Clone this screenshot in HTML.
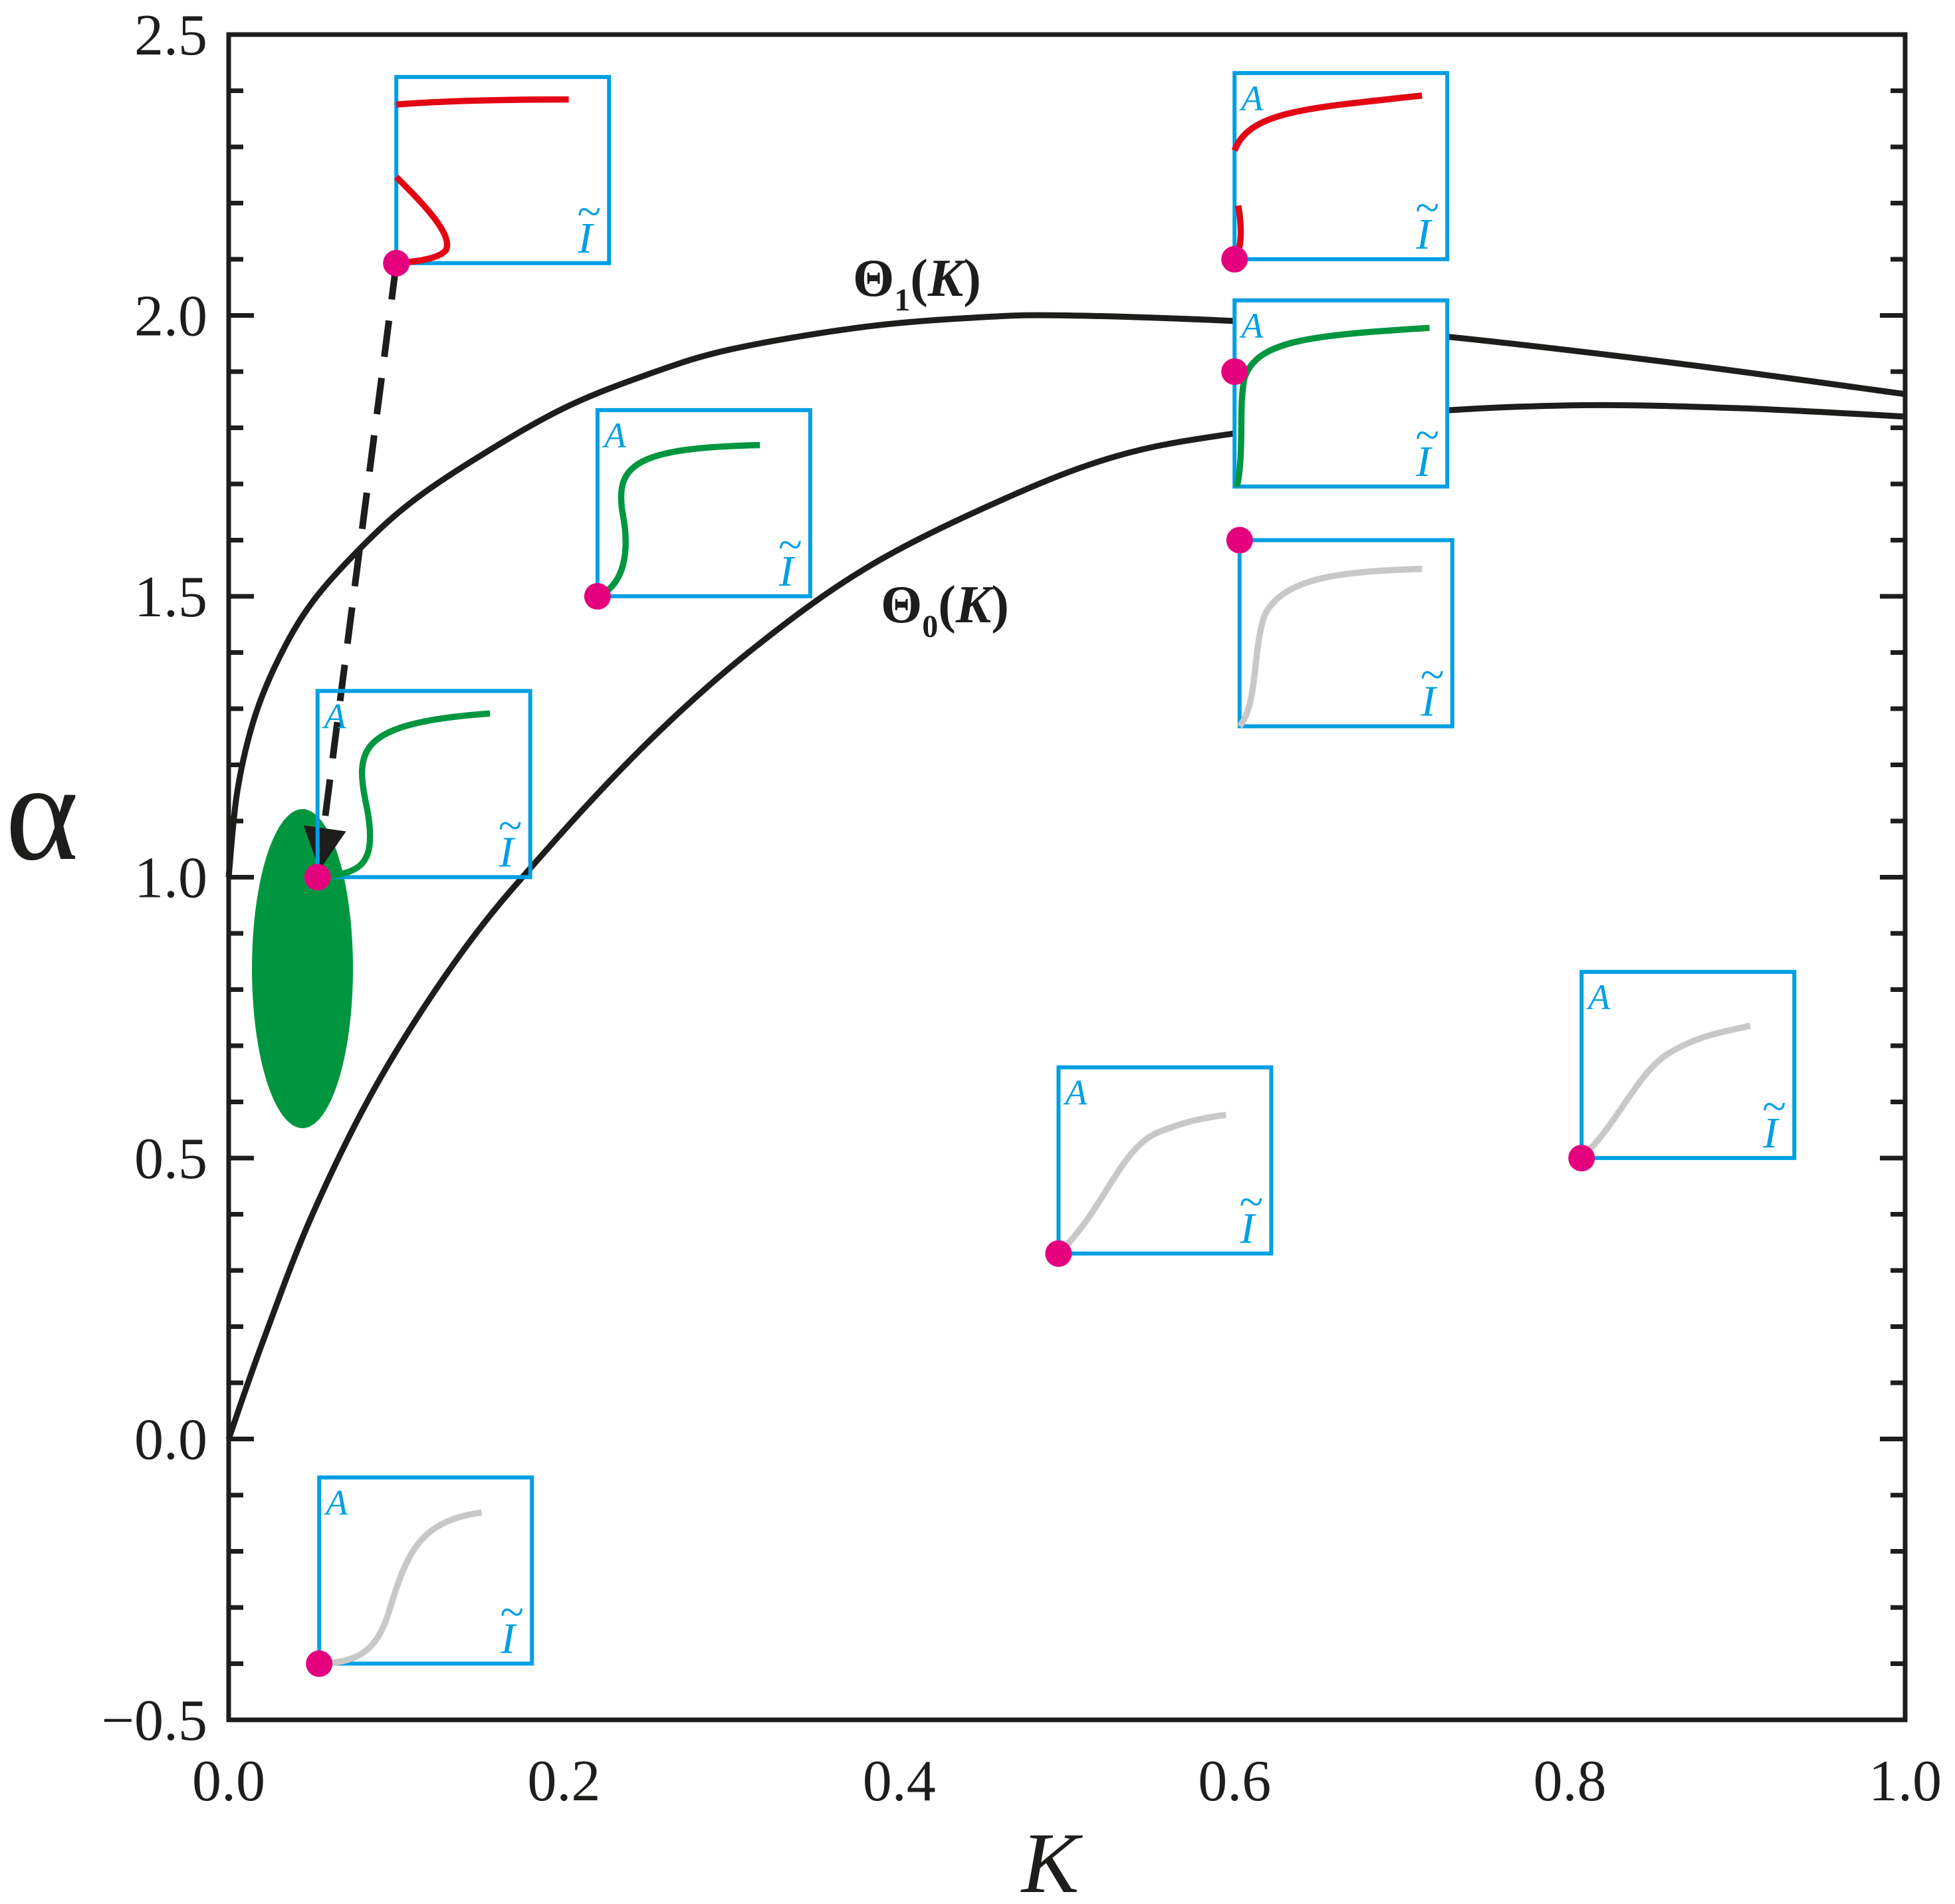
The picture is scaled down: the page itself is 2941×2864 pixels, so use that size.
<!DOCTYPE html>
<html><head><meta charset="utf-8"><style>
html,body{margin:0;padding:0;background:#fff;}
svg{display:block;}
text{font-family:"Liberation Serif",serif;}
</style></head><body>
<svg id="chart" width="2941" height="2864" viewBox="0 0 2941 2864" xmlns="http://www.w3.org/2000/svg">
<rect x="0" y="0" width="2941" height="2864" fill="#fff"/>
<g id="marks"></g>
<g id="frame"></g>
</svg>
<script>
const theta1K = [0,0.005,0.015,0.03,0.05,0.08,0.11,0.15,0.2,0.25,0.3,0.38,0.45,0.5,0.6,0.7,0.85,1.0];
const theta1A = [1.0,1.15,1.28,1.39,1.49,1.59,1.67,1.75,1.835,1.895,1.94,1.98,1.997,2.0,1.99,1.97,1.92,1.86];
const theta0K = [0,0.02,0.05,0.09,0.14,0.19,0.25,0.31,0.38,0.46,0.53,0.6,0.7,0.8,0.9,1.0];
const theta0A = [0,0.17,0.40,0.64,0.87,1.05,1.24,1.40,1.55,1.67,1.75,1.79,1.825,1.84,1.835,1.82];
const yTickLabels = ["−0.5","0.0","0.5","1.0","1.5","2.0","2.5"];
const yTickValues = [-0.5,0,0.5,1.0,1.5,2.0,2.5];
const xTickLabels = ["0.0","0.2","0.4","0.6","0.8","1.0"];
const xTickValues = [0,0.2,0.4,0.6,0.8,1.0];
const dotK = [0.1,0.6,0.22,0.6,0.603,0.053,0.495,0.807,0.054];
const dotA = [2.093,2.1,1.5,1.9,1.6,1.0,0.33,0.5,-0.4];
const insetColor = ["#e30613","#e30613","#009640","#009640","#c8c8c8","#009640","#c8c8c8","#c8c8c8","#c8c8c8"];
const insetTopOffset = [-149,-149,-149,-57,0,-149,-149,-149,-149];
const insetHasA = [false,true,true,true,false,true,true,true,true];
const insetPaths = [
 ["M0,22 C40,19 90,18 138,18","M0,80 C20,100 45,125 40,138 C35,146 12,148 0,149"],
 ["M0,62 C12,30 60,28 150,18","M3,106 C6,125 6,140 0,149"],
 ["M0,149 C22,140 26,112 20,82 C14,44 30,30 130,28"],
 ["M2,149 C8,120 3,85 8,62 C18,32 60,28 156,22"],
 ["M0,149 C15,130 10,90 20,60 C35,30 80,25 146,23"],
 ["M0,149 C32,146 48,142 40,96 C30,48 28,26 138,18"],
 ["M0,149 C40,110 50,60 85,50 C105,42 120,40 134,38"],
 ["M0,149 C30,120 45,80 70,65 C95,50 115,48 135,43"],
 ["M0,149 C30,148 45,140 55,110 C70,60 80,35 130,28"]
];
const NS="http://www.w3.org/2000/svg";
const L=344,R=2866,T=52,B=2587;
function X(k){return L+(R-L)*k;}
function Y(a){return T+(2.5-a)*(B-T)/3;}
function mk(tag,attrs,parent){const e=document.createElementNS(NS,tag);for(const k in attrs)e.setAttribute(k,attrs[k]);parent.appendChild(e);return e;}
function smooth(ks,as){
 const p=ks.map((k,i)=>[X(k),Y(as[i])]);
 let d="M"+p[0][0]+","+p[0][1];
 for(let i=0;i<p.length-1;i++){
  const p0=p[Math.max(0,i-1)],p1=p[i],p2=p[i+1],p3=p[Math.min(p.length-1,i+2)];
  const c1=[p1[0]+(p2[0]-p0[0])/6,p1[1]+(p2[1]-p0[1])/6];
  const c2=[p2[0]-(p3[0]-p1[0])/6,p2[1]-(p3[1]-p1[1])/6];
  d+=" C"+c1[0].toFixed(1)+","+c1[1].toFixed(1)+" "+c2[0].toFixed(1)+","+c2[1].toFixed(1)+" "+p2[0].toFixed(1)+","+p2[1].toFixed(1);
 }
 return d;
}
const marks=document.getElementById('marks');
const frame=document.getElementById('frame');
const ell=mk('ellipse',{cx:455,cy:1457,rx:76,ry:240,fill:'#009640'},marks);


const c1=mk('path',{d:smooth(theta1K,theta1A),fill:'none',stroke:'#1d1d1b','stroke-width':9},marks);


const c0=mk('path',{d:smooth(theta0K,theta0A),fill:'none',stroke:'#1d1d1b','stroke-width':9},marks);


const x1=X(dotK[0]),y1=Y(dotA[0]),x2=X(dotK[5])+5,y2=Y(dotA[5])-40;
const dl=mk('line',{x1:x1,y1:y1,x2:x2,y2:y2,stroke:'#1d1d1b','stroke-width':10,'stroke-dasharray':'55,32'},marks);


const ah=mk('polygon',{points:(X(dotK[5])-21)+","+(Y(dotA[5])-78)+" "+(X(dotK[5])+43)+","+(Y(dotA[5])-69)+" "+(X(dotK[5])+3)+","+(Y(dotA[5])-11),fill:'#1d1d1b'},marks);


const S=1.88,BW=320,BH=280;
for(let i=0;i<dotK.length;i++){
 const dx=X(dotK[i]),dy=Y(dotA[i]);
 const bx=dx,by=dy+insetTopOffset[i]*S;
 const g=mk('g',{transform:'translate('+bx+','+by+')'},marks);
 
 
 const rect=mk('rect',{x:0,y:0,width:BW,height:BH,fill:(i===3?'#fff':'none'),stroke:'#009fe3','stroke-width':6},g);
 
 
 insetPaths[i].forEach(function(pd){
  const p=mk('path',{d:pd,transform:'scale('+S+')',fill:'none',stroke:insetColor[i],'stroke-width':5,'stroke-linecap':'butt'},g);
  
  
 });
 if(insetHasA[i]){
  const ta=mk('text',{x:10,y:56,'font-size':54,'font-style':'italic',fill:'#009fe3'},g);
  ta.textContent='A';
  
  
 }
 const ti=mk('text',{x:284,y:264,'font-size':66,'font-style':'italic',fill:'#009fe3','text-anchor':'middle'},g);
 ti.textContent='I';
 
 
 const tt=mk('text',{x:290,y:224,'font-size':66,fill:'#009fe3','text-anchor':'middle'},g);
 tt.textContent='~';
 
 
}
for(let i=0;i<dotK.length;i++){
 const c=mk('circle',{cx:X(dotK[i]),cy:Y(dotA[i]),r:20,fill:'#e5007e'},marks);
 
 
}
const fr=mk('rect',{x:L,y:T,width:R-L,height:B-T,fill:'none',stroke:'#1d1d1b','stroke-width':7},frame);


for(let v=-5;v<=25;v++){
 const a=v/10,yy=Y(a),len=(v%5===0)?38:22;
 const t1=mk('line',{x1:L,y1:yy,x2:L+len,y2:yy,stroke:'#1d1d1b','stroke-width':7},frame);
 
 
 const t2=mk('line',{x1:R-len,y1:yy,x2:R,y2:yy,stroke:'#1d1d1b','stroke-width':7},frame);
 
 
}
yTickLabels.forEach(function(s,i){
 const t=mk('text',{x:312,y:Y(yTickValues[i])+30,'font-size':88,'text-anchor':'end',fill:'#1d1d1b'},frame);
 t.textContent=s;
 
 
});
xTickLabels.forEach(function(s,i){
 const t=mk('text',{x:X(xTickValues[i]),y:2708,'font-size':88,'text-anchor':'middle',fill:'#1d1d1b'},frame);
 t.textContent=s;
 
 
});
const ya=mk('text',{x:8,y:1292,'font-size':210,fill:'#1d1d1b'},frame);
ya.textContent='α';


const xa=mk('text',{x:1580,y:2846,'font-size':130,'font-style':'italic','text-anchor':'middle',fill:'#1d1d1b'},frame);
xa.textContent='K';


function thetaLabel(x,y,sub,name){
 const t=mk('text',{x:x,y:y,'font-size':80,'font-weight':'bold',fill:'#1d1d1b'},frame);
 
 
 const a=mk('tspan',{},t);a.textContent='Θ';
 const b=mk('tspan',{'font-size':48,dy:22},t);b.textContent=sub;
 const c=mk('tspan',{dy:-22},t);c.textContent='(';
 const d=mk('tspan',{'font-style':'italic'},t);d.textContent='K';
 const e=mk('tspan',{},t);e.textContent=')';
}
thetaLabel(1283,445,'1','theta1-label');
thetaLabel(1325,936,'0','theta0-label');
</script>
</body></html>
